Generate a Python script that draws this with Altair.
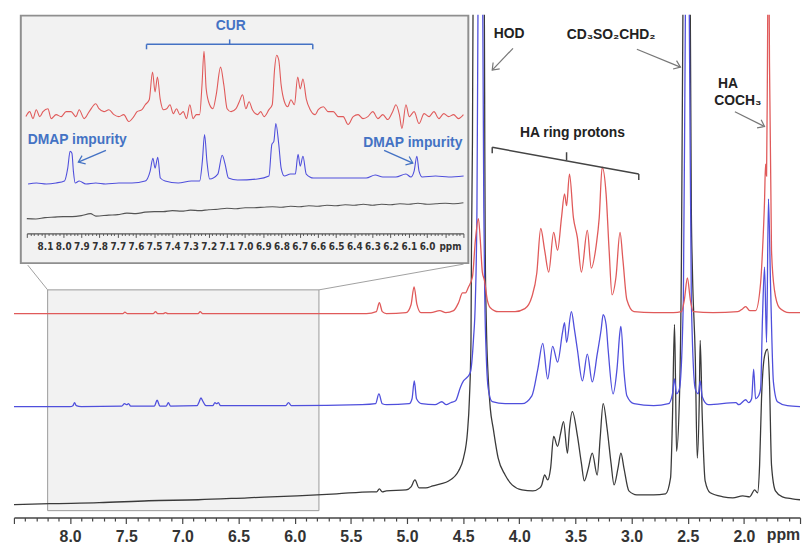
import altair as alt
import pandas as pd

# ---------------- spectra (ppm, intensity above own baseline) ----------------
RED = [(8.50,0),(7.60,0),(7.53,0),(7.512,1.5),(7.49,0),(7.26,0),(7.239,2),(7.22,0),(7.17,0),(7.151,1),(7.13,0),
       (6.86,0),(6.842,2),(6.82,0),(5.36,0),(5.273,2),(5.246,11),(5.220,2),(5.184,0),(5.008,1),(4.964,9),
       (4.937,27),(4.911,9),(4.876,1),(4.788,1),(4.708,3),(4.655,1),(4.585,3),(4.541,11),(4.505,21),(4.479,21),
       (4.452,27),(4.417,37),(4.391,74),(4.364,96),(4.347,74),(4.329,42),(4.311,34),(4.285,14),(4.258,6),
       (4.188,2),(4.038,2),(3.950,5),(3.888,17),(3.844,41),(3.809,86),(3.774,64),(3.738,42),(3.694,82),
       (3.659,64),(3.624,97),(3.597,121),(3.579,109),(3.553,141),(3.518,97),(3.483,77),(3.447,42),(3.394,84),
       (3.359,46),(3.315,69),(3.288,97),(3.262,148),(3.227,121),(3.200,64),(3.174,19),(3.139,37),(3.103,82),
       (3.077,54),(3.042,14),(2.979,2),(2.803,1),(2.627,1),(2.556,2),(2.530,14),(2.503,36),(2.477,14),
       (2.450,2),(2.274,1),(2.054,2),(2.010,5),(1.984,7),(1.948,3),(1.896,3),(1.851,31),(1.834,64),
       (1.816,114),(1.807,151),(1.798,139),(1.790,254),(1.781,420),(1.772,254),(1.754,64),(1.728,24),
       (1.684,6),(1.596,1),(1.50,1)]

BLUE = [(8.50,-1),(8.00,-1),(7.975,0),(7.96,3),(7.945,0),(7.90,-1),(7.54,-0.5),(7.515,2),(7.495,1),(7.48,2),
        (7.46,-0.5),(7.25,-0.5),(7.225,5.5),(7.20,-0.5),(7.145,-0.5),(7.125,3),(7.105,-0.5),(6.87,0),(6.85,4),
        (6.835,8),(6.82,5),(6.79,0),(6.73,0),(6.71,3),(6.695,2),(6.68,3),(6.66,0),(6.08,0),(6.055,3),(6.03,0),
        (5.40,1),(5.28,2),(5.25,12),(5.22,2),(5.18,1),(4.98,2),(4.955,7),(4.935,25),(4.915,7),(4.87,2),
        (4.75,1),(4.69,4),(4.65,1),(4.611,3),(4.567,5),(4.523,19),(4.497,25),(4.461,29),(4.435,34),(4.408,67),
        (4.391,107),(4.377,200),(4.368,395),(4.347,600),(4.325,395),(4.316,200),(4.307,107),(4.294,50),
        (4.276,17),(4.241,4),(4.126,2),(3.976,2),(3.888,10),(3.835,37),(3.791,63),(3.747,27),(3.703,60),
        (3.659,44),(3.615,74),(3.597,84),(3.579,64),(3.536,95),(3.509,77),(3.483,57),(3.438,25),(3.394,52),
        (3.350,24),(3.306,52),(3.271,77),(3.253,92),(3.227,82),(3.209,57),(3.165,12),(3.130,37),(3.103,75),
        (3.095,80),(3.068,35),(3.042,10),(2.979,2),(2.803,0),(2.671,2),(2.636,12),(2.618,27),(2.600,12),
        (2.574,17),(2.539,107),(2.521,395),(2.503,600),(2.486,395),(2.468,107),(2.433,17),(2.406,12),
        (2.389,25),(2.371,9),(2.318,1),(2.071,3),(2.045,1),(1.984,6),(1.957,3),(1.931,7),(1.913,37),
        (1.896,7),(1.869,10),(1.851,17),(1.834,90),(1.816,140),(1.798,64),(1.781,209),(1.763,124),
        (1.737,24),(1.701,4),(1.613,0),(1.50,-1)]

BLACK = [(8.50,0),(8.18,1),(7.742,2),(7.30,4),(6.86,5),(6.419,7),(5.978,9),(5.625,11),(5.317,13),(5.27,13),
         (5.246,16),(5.22,13),(5.184,14),(5.008,15),(4.964,18),(4.929,25),(4.893,17),(4.832,17),(4.770,19),
         (4.70,21),(4.629,24),(4.541,34),(4.497,47),(4.461,74),(4.444,107),(4.430,167),(4.426,257),
         (4.417,367),(4.412,495),(4.364,700),(4.311,495),(4.307,357),(4.303,257),(4.294,187),(4.276,127),
         (4.258,97),(4.232,77),(4.188,47),(4.126,30),(4.064,20),(3.976,15),(3.879,14),(3.817,17),(3.800,20),
         (3.774,30),(3.747,25),(3.721,37),(3.694,69),(3.659,59),(3.632,72),(3.606,84),(3.571,52),(3.553,77),
         (3.527,94),(3.483,70),(3.447,42),(3.421,24),(3.385,37),(3.350,52),(3.306,30),(3.280,67),(3.253,102),
         (3.218,77),(3.183,42),(3.156,20),(3.121,37),(3.095,52),(3.068,37),(3.024,14),(2.953,10),(2.803,10),
         (2.697,11),(2.653,27),(2.636,87),(2.618,182),(2.609,127),(2.600,54),(2.574,107),(2.556,250),
         (2.543,495),(2.512,700),(2.477,495),(2.468,300),(2.459,240),(2.433,150),(2.415,47),(2.397,107),
         (2.389,166),(2.371,90),(2.345,24),(2.300,12),(2.186,8),(2.098,7),(2.010,9),(1.948,8),(1.904,15),
         (1.878,12),(1.860,40),(1.843,107),(1.816,150),(1.790,157),(1.772,124),(1.754,40),(1.719,14),
         (1.657,8),(1.569,6),(1.50,5)]

RED_OFFSET, BLUE_OFFSET, BLACK_OFFSET = 206, 113, 13

# ---------------- inset spectra (ppm, level in inset units) ----------------
RED_INSET = [(8.205,148),(8.184,153),(8.166,146),(8.148,155),(8.129,148),(8.111,153),(8.084,156),(8.066,146),
             (8.039,150),(8.011,148),(7.984,153),(7.957,153),(7.930,148),(7.912,155),(7.885,146),(7.857,153),
             (7.821,161),(7.803,156),(7.776,153),(7.749,155),(7.721,150),(7.694,148),(7.667,150),(7.640,143),
             (7.612,148),(7.594,153),(7.567,155),(7.549,160),(7.527,165),(7.509,193),(7.495,173),(7.482,188),
             (7.467,166),(7.449,155),(7.431,156),(7.413,160),(7.395,151),(7.377,156),(7.359,150),(7.340,153),
             (7.322,146),(7.304,160),(7.286,146),(7.268,150),(7.250,150),(7.237,180),(7.226,214),(7.214,176),
             (7.195,160),(7.177,156),(7.159,170),(7.135,198),(7.117,180),(7.099,156),(7.077,153),(7.050,156),
             (7.032,163),(7.014,170),(6.996,156),(6.978,163),(6.960,155),(6.932,150),(6.914,153),(6.896,148),
             (6.869,155),(6.851,160),(6.838,196),(6.827,210),(6.815,205),(6.802,180),(6.784,163),(6.766,158),
             (6.748,165),(6.729,160),(6.711,188),(6.697,176),(6.682,186),(6.664,166),(6.642,155),(6.615,150),
             (6.598,155),(6.570,158),(6.543,153),(6.515,153),(6.488,148),(6.461,148),(6.434,140),(6.406,148),
             (6.379,150),(6.352,146),(6.325,148),(6.298,153),(6.270,146),(6.243,150),(6.216,145),(6.189,153),
             (6.171,160),(6.152,150),(6.138,136),(6.116,160),(6.098,148),(6.071,153),(6.044,141),(6.016,151),
             (5.989,148),(5.962,153),(5.935,146),(5.908,151),(5.881,148),(5.854,150),(5.827,146),(5.800,150)]

BLUE_INSET = [(8.193,80),(8.147,81),(8.093,80),(8.039,81),(7.993,83),(7.975,96),(7.962,113),(7.952,111),
              (7.944,93),(7.934,81),(7.912,83),(7.875,80),(7.821,81),(7.767,80),(7.694,81),(7.622,81),
              (7.549,83),(7.522,93),(7.507,106),(7.495,96),(7.480,107),(7.466,86),(7.440,83),(7.368,81),
              (7.295,83),(7.250,83),(7.235,103),(7.223,130),(7.210,103),(7.195,85),(7.150,90),(7.126,109),
              (7.110,100),(7.092,86),(7.041,84),(6.932,85),(6.869,88),(6.853,120),(6.842,123),(6.831,141),
              (6.815,120),(6.802,96),(6.784,88),(6.751,90),(6.724,90),(6.709,110),(6.697,98),(6.682,108),
              (6.664,90),(6.624,86),(6.534,86),(6.425,86),(6.334,86),(6.285,89),(6.243,87),(6.171,87),
              (6.116,90),(6.089,87),(6.071,93),(6.056,108),(6.044,93),(6.026,87),(5.953,88),(5.881,87),
              (5.799,88)]

BLACK_INSET = [(8.2,45),(8.15,44.5),(8.1,46),(8.05,46.5),(8.0,47),(7.95,47),(7.9,48),(7.85,50),(7.82,47.5),
               (7.75,48.5),(7.7,49),(7.65,50.5),(7.6,50),(7.55,51.5),(7.5,52),(7.45,52),(7.4,53),(7.35,52.5),
               (7.3,53.5),(7.25,53),(7.2,54),(7.15,54.5),(7.1,55.5),(7.05,55),(7.0,56),(6.95,56),(6.9,56.5),
               (6.85,57),(6.8,56.5),(6.75,57.5),(6.7,57),(6.65,58),(6.6,57.5),(6.55,58.5),(6.5,58),(6.45,59),
               (6.4,58.5),(6.35,59.5),(6.3,58.5),(6.25,59.5),(6.2,59),(6.15,60),(6.1,59.5),(6.05,60.5),
               (6.0,59.5),(5.95,60),(5.9,60.5),(5.85,60),(5.8,61)]

# ---------------- annotations ----------------
MAIN_TEXT = [("HOD", 4.091, 488), ("CD₃SO₂CHD₂", 3.183, 487), ("HA", 2.142, 438),
             ("COCH₃", 2.054, 421), ("HA ring protons", 3.527, 388)]
MAIN_ARROWS = [(4.056, 474, 4.241, 452), (2.953, 473, 2.565, 455), (2.080, 410, 1.816, 395)]
MAIN_ARROW_ANGLES = [133.7, 22.2, 26.6]
RING_BRACKET = [(4.241, 368, 4.241, 374), (4.241, 374, 2.936, 347), (2.936, 347, 2.936, 341),
                (3.579, 361, 3.579, 369)]
ZOOM_BOX = [(8.2, 7, 5.784, 230)]
CONNECTORS = [(8.2, 230, 8.377, 255), (5.784, 230, 4.496, 256)]

INSET_TEXT = [("CUR", 7.079, 239), ("DMAP impurity", 7.923, 124), ("DMAP impurity", 6.078, 121)]
INSET_ARROWS = [(7.765, 114, 7.917, 102), (6.236, 114, 6.078, 101)]
INSET_ARROW_ANGLES = [156.8, 24.1]
CUR_BRACKET = [(7.542, 221, 6.628, 221), (7.542, 221, 7.542, 216), (6.628, 221, 6.628, 216),
               (7.085, 221, 7.085, 226)]
INSET_FRAME = [(8.233, 0, 5.773, 250)]

MAIN_TICKS = [round(1.5 + 0.1 * i, 1) for i in range(71)]
INSET_TICKS = [round(5.8 + 0.02 * i, 2) for i in range(121)]

RED_C, BLUE_C, BLACK_C = "#e05a5a", "#4f4fdc", "#3a3a3a"
NOTE_BLUE = "#4472c4"
FONT = "Liberation Sans, Arial, Helvetica, sans-serif"

# ---------------- scales / axes ----------------
xs = alt.Scale(domain=[1.5, 8.5], reverse=True, nice=False, zero=False)
ys = alt.Scale(domain=[0, 508], nice=False, zero=False)
xi = alt.Scale(domain=[5.8, 8.2], reverse=True, nice=False, zero=False, range=[13, 454])
yi = alt.Scale(domain=[0, 250], nice=False, zero=False, range=[251, 1])

main_axis = alt.Axis(
    orient="bottom", values=MAIN_TICKS, title=None, grid=False,
    labelExpr="datum.value > 1.95 && datum.value < 8.05 && abs(datum.value*2 - round(datum.value*2)) < 0.01 ? format(datum.value, '.1f') : ''",
    tickSize={"condition": {"test": "abs(datum.value*2 - round(datum.value*2)) < 0.01", "value": 6}, "value": 3.5},
    tickColor="#444", tickWidth=1.2, domainColor="#444", domainWidth=1.5,
    labelFont=FONT, labelFontSize=16, labelFontWeight="bold", labelColor="#333",
    labelPadding=5, labelOverlap=False, labelFlush=False)

inset_axis = alt.Axis(
    orient="bottom", offset=-287, zindex=1, values=INSET_TICKS, title=None, grid=False,
    labelExpr="datum.value > 5.95 && datum.value < 8.15 && abs(datum.value*10 - round(datum.value*10)) < 0.01 ? format(datum.value, '.1f') : ''",
    tickSize={"condition": {"test": "abs(datum.value*10 - round(datum.value*10)) < 0.01", "value": 4}, "value": 2},
    tickColor="#555", tickWidth=1, domainColor="#555", domainWidth=1.2,
    labelFont="Liberation Sans Narrow, DejaVu Sans Condensed, Liberation Sans, Arial, sans-serif",
    labelFontSize=10, labelFontWeight="bold", labelColor="#333",
    labelPadding=4, labelOverlap=False, labelFlush=False)


def spectrum(data, offset, color, xsc, ysc, axis, width=1.3):
    df = pd.DataFrame(data, columns=["ppm", "intensity"])
    return (alt.Chart(df)
            .transform_calculate(level=f"datum.intensity + {offset}")
            .mark_line(color=color, strokeWidth=width, clip=True, interpolate="monotone")
            .encode(x=alt.X("ppm:Q", scale=xsc, axis=axis),
                    y=alt.Y("level:Q", scale=ysc, axis=None)))


def segments(data, color, xsc, ysc, axis, width=1.2):
    df = pd.DataFrame(data, columns=["x0", "y0", "x1", "y1"])
    return (alt.Chart(df).mark_rule(color=color, strokeWidth=width)
            .encode(x=alt.X("x0:Q", scale=xsc, axis=axis), x2="x1:Q",
                    y=alt.Y("y0:Q", scale=ysc, axis=None), y2="y1:Q"))


def heads(data, angles, color, xsc, ysc, axis):
    df = pd.DataFrame(data, columns=["x0", "y0", "x1", "y1"])
    df["angle"] = angles
    return (alt.Chart(df).mark_point(shape="M -1 -0.75 L 0 0 L -1 0.75", filled=False,
                                     strokeWidth=1.2, size=150, color=color, opacity=1)
            .encode(x=alt.X("x1:Q", scale=xsc, axis=axis),
                    y=alt.Y("y1:Q", scale=ysc, axis=None),
                    angle=alt.Angle("angle:Q", scale=None)))


def texts(data, color, size, xsc, ysc, axis, font=FONT):
    df = pd.DataFrame(data, columns=["label", "x", "y"])
    return (alt.Chart(df).mark_text(font=font, fontSize=size, fontWeight="bold", color=color,
                                    align="center", baseline="middle")
            .encode(x=alt.X("x:Q", scale=xsc, axis=axis),
                    y=alt.Y("y:Q", scale=ysc, axis=None), text="label:N"))


def box(data, fill, stroke, width, xsc, ysc, axis):
    df = pd.DataFrame(data, columns=["x0", "y0", "x1", "y1"])
    return (alt.Chart(df).mark_rect(fill=fill, stroke=stroke, strokeWidth=width)
            .encode(x=alt.X("x0:Q", scale=xsc, axis=axis), x2="x1:Q",
                    y=alt.Y("y0:Q", scale=ysc, axis=None), y2="y1:Q"))


main = alt.layer(
    box(ZOOM_BOX, "#f2f2f2", "#9a9a9a", 1, xs, ys, main_axis),
    segments(CONNECTORS, "#a0a0a0", xs, ys, main_axis, 1),
    spectrum(BLACK, BLACK_OFFSET, BLACK_C, xs, ys, main_axis),
    spectrum(BLUE, BLUE_OFFSET, BLUE_C, xs, ys, main_axis),
    spectrum(RED, RED_OFFSET, RED_C, xs, ys, main_axis),
    segments(RING_BRACKET, "#444", xs, ys, main_axis, 1.5),
    segments(MAIN_ARROWS, "#777", xs, ys, main_axis, 1.2),
    heads(MAIN_ARROWS, MAIN_ARROW_ANGLES, "#777", xs, ys, main_axis),
    texts(MAIN_TEXT, "#222", 14, xs, ys, main_axis),
    texts([("ppm", 1.648, -18)], "#333", 16, xs, ys, main_axis),
)

inset = alt.layer(
    box(INSET_FRAME, "#f2f2f2", "#8f8f8f", 2, xi, yi, inset_axis),
    spectrum(BLACK_INSET, 0, "#555555", xi, yi, inset_axis, 1.1),
    spectrum(BLUE_INSET, 0, BLUE_C, xi, yi, inset_axis, 1.1),
    spectrum(RED_INSET, 0, RED_C, xi, yi, inset_axis, 1.1),
    segments(CUR_BRACKET, NOTE_BLUE, xi, yi, inset_axis, 1.5),
    segments(INSET_ARROWS, NOTE_BLUE, xi, yi, inset_axis, 1.4),
    heads(INSET_ARROWS, INSET_ARROW_ANGLES, NOTE_BLUE, xi, yi, inset_axis),
    texts(INSET_TEXT, NOTE_BLUE, 14, xi, yi, inset_axis),
    texts([("ppm", 5.871, 16)], "#333", 10, xi, yi, inset_axis,
          font="Liberation Sans Narrow, DejaVu Sans Condensed, Liberation Sans, Arial, sans-serif"),
)

chart = (alt.layer(main, inset)
         .resolve_scale(x="independent", y="independent")
         .properties(width=794, height=508,
                     autosize=alt.AutoSizeParams(type="none"),
                     padding={"left": 6, "top": 4, "right": 3, "bottom": 25},
                     background="white")
         .configure_view(stroke=None))

chart.save("out.html", embed_options={"renderer": "svg", "actions": False})
